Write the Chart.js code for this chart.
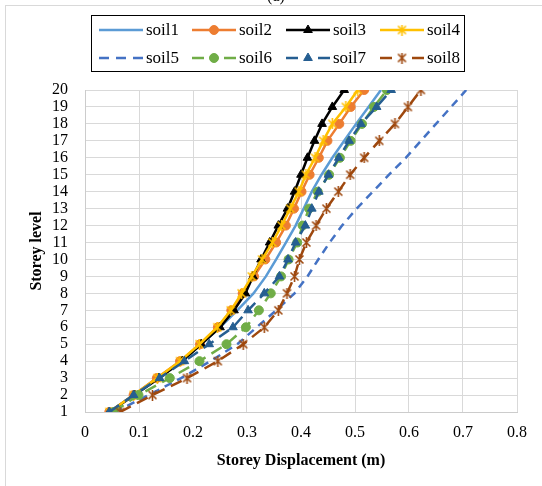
<!DOCTYPE html>
<html>
<head>
<meta charset="utf-8">
<script src="https://cdn.jsdelivr.net/npm/chart.js@4.4.0/dist/chart.umd.min.js"></script>
<style>
  html, body { margin: 0; padding: 0; background: #fff; }
</style>
</head>
<body>
<canvas id="storeyChart" width="542" height="486"></canvas>
<script>
// storey levels (y) and displacement per soil type (x, metres)
const levels = [1, 2, 3, 4, 5, 6, 7, 8, 9, 10, 11, 12, 13, 14, 15, 16, 17, 18, 19, 20];
const seriesNames = ["soil1", "soil2", "soil3", "soil4", "soil5", "soil6", "soil7", "soil8"];

const soil1 = [0.045, 0.090, 0.135, 0.178, 0.215, 0.250, 0.282, 0.312, 0.335, 0.354, 0.372, 0.390, 0.405, 0.420, 0.438, 0.458, 0.480, 0.502, 0.525, 0.548];
const soil2 = [0.045, 0.090, 0.133, 0.176, 0.213, 0.246, 0.271, 0.292, 0.313, 0.334, 0.354, 0.372, 0.387, 0.401, 0.416, 0.433, 0.449, 0.471, 0.492, 0.517];
const soil3 = [0.045, 0.092, 0.137, 0.180, 0.215, 0.250, 0.276, 0.297, 0.311, 0.326, 0.342, 0.358, 0.375, 0.388, 0.400, 0.412, 0.425, 0.439, 0.458, 0.480];
const soil4 = [0.045, 0.090, 0.134, 0.176, 0.212, 0.245, 0.270, 0.290, 0.309, 0.328, 0.347, 0.364, 0.380, 0.396, 0.409, 0.426, 0.441, 0.458, 0.483, 0.505];
const soil5 = [0.055, 0.118, 0.178, 0.232, 0.282, 0.318, 0.354, 0.388, 0.412, 0.432, 0.453, 0.476, 0.503, 0.533, 0.563, 0.594, 0.622, 0.650, 0.678, 0.706];
const soil6 = [0.053, 0.099, 0.157, 0.212, 0.262, 0.298, 0.322, 0.344, 0.363, 0.377, 0.393, 0.403, 0.415, 0.431, 0.452, 0.472, 0.492, 0.513, 0.535, 0.559];
const soil7 = [0.045, 0.090, 0.138, 0.184, 0.230, 0.274, 0.302, 0.332, 0.360, 0.376, 0.390, 0.408, 0.420, 0.433, 0.451, 0.470, 0.489, 0.511, 0.540, 0.567];
const soil8 = [0.065, 0.125, 0.189, 0.246, 0.293, 0.332, 0.358, 0.374, 0.388, 0.397, 0.410, 0.428, 0.447, 0.469, 0.491, 0.517, 0.545, 0.574, 0.598, 0.622];

const allSoils = [soil1, soil2, soil3, soil4, soil5, soil6, soil7, soil8];

const SERIF = "'Liberation Serif', 'Times New Roman', serif";

// excel style "star" marker (x with a vertical bar)
function excelStar(color) {
  const c = document.createElement("canvas");
  c.width = 11;
  c.height = 11;
  const g = c.getContext("2d");
  g.strokeStyle = color;
  g.lineWidth = 1.6;
  g.beginPath();
  g.moveTo(1.5, 1.5); g.lineTo(9.5, 9.5);
  g.moveTo(9.5, 1.5); g.lineTo(1.5, 9.5);
  g.moveTo(5.5, 0); g.lineTo(5.5, 11);
  g.stroke();
  return c;
}

const styles = [
  { color: "#5B9BD5", dash: [], point: false },
  { color: "#ED7D31", dash: [], point: "circle" },
  { color: "#000000", dash: [], point: "triangle" },
  { color: "#FFC000", dash: [], point: "star" },
  { color: "#4472C4", dash: [8, 6], point: false },
  { color: "#70AD47", dash: [12, 7], point: "circle" },
  { color: "#255E91", dash: [12, 7], point: "triangle" },
  { color: "#9E480E", dash: [12, 7], point: "star" },
];

const datasets = allSoils.map((vals, i) => {
  const s = styles[i];
  const ps = s.point === "star" ? excelStar(s.color) : (s.point || "circle");
  return {
    label: seriesNames[i],
    data: vals.map((v, k) => ({ x: v, y: levels[k] })),
    showLine: true,
    borderColor: s.color,
    backgroundColor: s.color,
    borderWidth: 2.5,
    borderDash: s.dash,
    tension: 0,
    pointStyle: ps,
    pointRadius: s.point ? (s.point === "triangle" ? 5 : 4.5) : 0,
    pointBorderWidth: 1,
    pointHoverRadius: 0,
    order: 8 - i,
  };
});

// legend line sample: solid, short dashes, or dash-marker-dash
function legendSegments(i) {
  if (!styles[i].dash.length) return [[0, 44]];
  if (!styles[i].point) return [[0, 10], [17, 27], [34, 44]];
  return [[0, 12], [32, 44]];
}

// outer frame, cut-off "(a)" caption and excel-like legend
const framePlugin = {
  id: "frame",
  beforeDraw(chart) {
    const ctx = chart.ctx;
    ctx.save();
    ctx.strokeStyle = "#d9d9d9";
    ctx.lineWidth = 1;
    ctx.strokeRect(5.5, 5.5, 600, 600);
    ctx.fillStyle = "#000";
    ctx.font = "16px " + SERIF;
    ctx.textAlign = "center";
    ctx.textBaseline = "alphabetic";
    ctx.fillText("(a)", 276, 1);
    ctx.restore();
  },
  afterDraw(chart) {
    const ctx = chart.ctx;
    ctx.save();
    ctx.strokeStyle = "#000";
    ctx.lineWidth = 1;
    ctx.strokeRect(91.5, 15.5, 373, 56);
    const rowsY = [30, 58];
    const colsX = [99, 192, 286, 380];
    datasets.forEach((ds, i) => {
      const x0 = colsX[i % 4];
      const y0 = rowsY[Math.floor(i / 4)];
      ctx.save();
      ctx.strokeStyle = ds.borderColor;
      ctx.lineWidth = ds.borderWidth;
      ctx.beginPath();
      legendSegments(i).forEach(([a, b]) => {
        ctx.moveTo(x0 + a, y0);
        ctx.lineTo(x0 + b, y0);
      });
      ctx.stroke();
      if (ds.pointRadius > 0) {
        ctx.fillStyle = ds.backgroundColor;
        ctx.strokeStyle = ds.borderColor;
        ctx.lineWidth = 1;
        Chart.helpers.drawPoint(ctx, { pointStyle: ds.pointStyle, radius: ds.pointRadius, borderWidth: 1, rotation: 0 }, x0 + 22, y0);
      }
      ctx.restore();
      ctx.fillStyle = "#000";
      ctx.font = "17px " + SERIF;
      ctx.textAlign = "left";
      ctx.textBaseline = "middle";
      ctx.fillText(ds.label, x0 + 47, y0 + 1);
    });
    ctx.restore();
  },
};

new Chart(document.getElementById("storeyChart"), {
  type: "scatter",
  data: { datasets: datasets },
  options: {
    responsive: false,
    animation: false,
    layout: { padding: { left: 0, top: 90, right: 25, bottom: 12 } },
    plugins: {
      legend: { display: false },
      tooltip: { enabled: false },
    },
    scales: {
      x: {
        type: "linear",
        min: 0,
        max: 0.8,
        afterFit: (scale) => { scale.height = 62; },
        ticks: {
          stepSize: 0.1,
          color: "#000",
          padding: 11,
          font: { family: SERIF, size: 16 },
          callback: (v) => (v === 0 ? "0" : v.toFixed(1)),
        },
        grid: { color: "#d9d9d9", lineWidth: 1, drawTicks: false },
        border: { color: "#cccccc", width: 1 },
        title: {
          display: true,
          text: "Storey Displacement (m)",
          color: "#000",
          font: { family: SERIF, size: 16, weight: "bold" },
          padding: { top: 4, bottom: 4 },
        },
      },
      y: {
        type: "linear",
        min: 1,
        max: 20,
        afterFit: (scale) => { scale.width = 85; },
        ticks: {
          stepSize: 1,
          autoSkip: false,
          color: "#000",
          padding: 17,
          font: { family: SERIF, size: 16 },
        },
        grid: { color: "#d9d9d9", lineWidth: 1, drawTicks: false },
        border: { color: "#cccccc", width: 1 },
        title: {
          display: true,
          text: "Storey level",
          color: "#000",
          font: { family: SERIF, size: 16, weight: "bold" },
          padding: { top: 27, bottom: 4 },
        },
      },
    },
  },
  plugins: [framePlugin],
});
</script>
</body>
</html>
